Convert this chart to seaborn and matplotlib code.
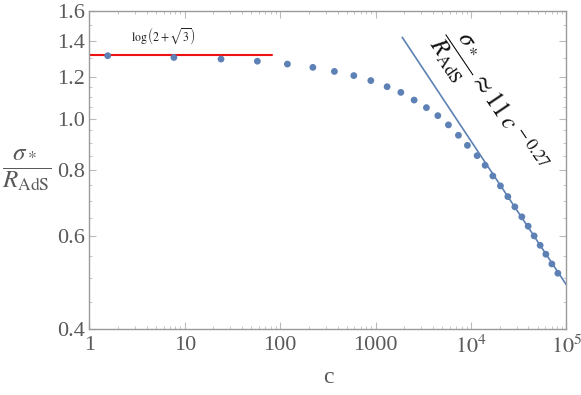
import numpy as np
import pandas as pd
import matplotlib
matplotlib.use('Agg')
import matplotlib.pyplot as plt
import seaborn as sns

# datos
c_vals = [1.56, 7.7, 24.0, 57.7, 119, 220, 370, 591, 891, 1320,
          1838, 2533, 3408, 4487, 5797, 7379, 9162, 11580, 14050, 16920,
          20330, 24300, 28780, 34070, 39690, 45850, 52980, 60810, 70310, 81240]
sigma_vals = [1.315, 1.305, 1.296, 1.284, 1.268, 1.250, 1.228, 1.206, 1.180, 1.149,
              1.121, 1.084, 1.049, 1.013, 0.973, 0.930, 0.890, 0.851, 0.816, 0.779,
              0.746, 0.712, 0.681, 0.652, 0.626, 0.600, 0.576, 0.554, 0.531, 0.510]

# linea roja log(2+sqrt(3))
red_c = [1, 82]
red_y = [1.317, 1.317]

# ajuste 11 c^-0.27 (extremos)
fit_c = [1900, 100000]
fit_y = [1.425, 0.4845]

x_ticks = [1, 10, 100, 1000, 1e4, 1e5]
x_labels = ['1', '10', '100', '1000', r'$10^{4}$', r'$10^{5}$']
y_ticks = [0.4, 0.6, 0.8, 1.0, 1.2, 1.4, 1.6]
y_labels = ['0.4', '0.6', '0.8', '1.0', '1.2', '1.4', '1.6']
y_minor = [0.45, 0.5, 0.55, 0.65, 0.7, 0.75, 0.85, 0.9, 0.95,
           1.05, 1.1, 1.15, 1.3, 1.5]

sns.set_style('ticks')
plt.rcParams['font.family'] = ['Liberation Serif', 'DejaVu Serif']
plt.rcParams['mathtext.fontset'] = 'stix'

blue = '#5e81b5'
gray = '#9a9a9a'
txt = '#5a5a5a'

df = pd.DataFrame({'c': c_vals, 'sigma': sigma_vals})

fig = plt.figure(figsize=(5.81, 3.95), dpi=100)
ax = fig.add_axes([0.1537, 0.167, 0.8213, 0.806])

ax.plot(red_c, red_y, color='#ee1111', lw=1.5, zorder=2)
ax.plot(fit_c, fit_y, color=blue, lw=1.2, zorder=2)
sns.scatterplot(data=df, x='c', y='sigma', ax=ax, color=blue, s=24,
                edgecolor='none', zorder=3)

ax.set_xscale('log')
ax.set_yscale('log')
ax.set_xlim(1, 1e5)
ax.set_ylim(0.4, 1.6)

ax.set_xticks(x_ticks)
ax.set_xticklabels(x_labels)
ax.xaxis.set_minor_locator(matplotlib.ticker.LogLocator(base=10, subs=np.arange(2, 10)))
ax.xaxis.set_minor_formatter(matplotlib.ticker.NullFormatter())
ax.set_yticks(y_ticks)
ax.set_yticklabels(y_labels)
ax.set_yticks(y_minor, minor=True)
ax.yaxis.set_minor_formatter(matplotlib.ticker.NullFormatter())

ax.tick_params(which='both', direction='in', top=True, right=True, color='#bbbbbb',
               labelcolor=txt, labelsize=16)
ax.tick_params(axis='x', pad=5)
ax.tick_params(axis='y', pad=3)
ax.tick_params(which='major', length=5, width=0.8)
ax.tick_params(which='minor', length=2.5, width=0.6)
for s in ax.spines.values():
    s.set_color(gray)
    s.set_linewidth(1.0)

ax.set_xlabel('c', fontsize=17, color=txt, labelpad=6)
ax.set_ylabel(r'$\dfrac{\sigma_*}{R_{\mathrm{AdS}}}$', fontsize=18, color=txt,
              rotation=0, labelpad=22, va='center')

ax.text(5.9, 1.427, r'$\log\left(2+\sqrt{3}\right)$', fontsize=8.5, color='#222222',
        ha='center', va='center')
ax.text(15500, 1.07, r'$\dfrac{\sigma_*}{R_{\mathrm{AdS}}}\approx 11\,c^{\,-0.27}$',
        fontsize=18, color='#111111', rotation=-56, rotation_mode='anchor',
        ha='center', va='center')

fig.savefig('out.png', dpi=100)
